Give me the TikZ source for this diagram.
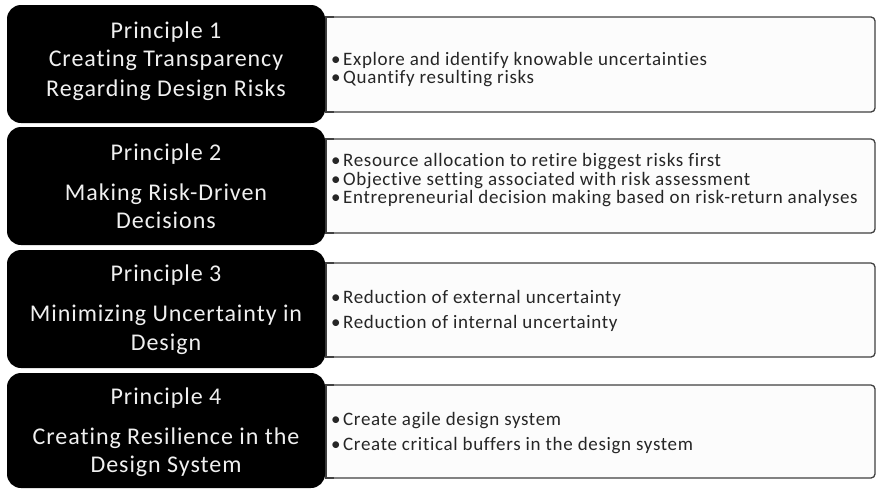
\documentclass[tikz,border=0pt]{standalone}
\usepackage{fontspec}
\setmainfont[Ligatures=NoCommon]{Carlito}
\newfontfamily\headfont[Ligatures=NoCommon,LetterSpace=4]{Carlito}
\newfontfamily\itemfont[Ligatures=NoCommon,LetterSpace=3.5]{Carlito}
\begin{document}
\begin{tikzpicture}[x=1pt,y=-1pt,
  principle/.style={fill=black, rounded corners=14pt},
  detail/.style={draw=black!75, line width=1.3pt, fill=black!1},
  head/.style={text=white!94!black, font=\headfont\fontsize{24}{28}\selectfont, anchor=base, inner sep=0pt},
  item/.style={text=black!85, font=\itemfont\fontsize{19}{22}\selectfont, anchor=base west, inner sep=0pt},
]
\useasboundingbox (0,0) rectangle (877,490);

% detail panels: square on the left, rounded on the right
\foreach \t/\b [count=\i] in {17/112,139/233,263/357,385/478} {
  \draw[detail, rounded corners=4pt] (326,\t) rectangle (875,\b);
  \fill[black!1] (325.5,\t+0.7) rectangle (334,\b-0.7);
  \draw[draw=black!75, line width=1.3pt] (334,\t) -- (326,\t) -- (326,\b) -- (334,\b);
}

% principle boxes
\foreach \t/\b [count=\i] in {5/123,127/245,250/368,373/488} {
  \path[principle] (7,\t) rectangle (325,\b);
}

% principle headings
\node[head] (h1) at (166,38.3) {Principle 1};
\node[head] (t1a) at (166,66.5) {Creating Transparency};
\node[head] (t1b) at (166,96.7) {Regarding Design Risks};

\node[head] (h2) at (166,160) {Principle 2};
\node[head] (t2a) at (166,200) {Making Risk-Driven};
\node[head] (t2b) at (166,228.3) {Decisions};

\node[head] (h3) at (166,281.7) {Principle 3};
\node[head] (t3a) at (166,321.7) {Minimizing Uncertainty in};
\node[head] (t3b) at (166,350) {Design};

\node[head] (h4) at (166,404.5) {Principle 4};
\node[head] (t4a) at (166,444) {Creating Resilience in the};
\node[head] (t4b) at (166,472.5) {Design System};

% bullet items
\newcommand{\bul}{\makebox[12pt][l]{\textbullet}}
\node[item] (b1a) at (331,65.7) {\bul Explore and identify knowable uncertainties};
\node[item] (b1b) at (331,83.3) {\bul Quantify resulting risks};

\node[item] (b2a) at (331,166.7) {\bul Resource allocation to retire biggest risks first};
\node[item] (b2b) at (331,185) {\bul Objective setting associated with risk assessment};
\node[item] (b2c) at (331,203.3) {\bul Entrepreneurial decision making based on risk-return analyses};

\node[item] (b3a) at (331,303.3) {\bul Reduction of external uncertainty};
\node[item] (b3b) at (331,328.3) {\bul Reduction of internal uncertainty};

\node[item] (b4a) at (331,425.7) {\bul Create agile design system};
\node[item] (b4b) at (331,450.7) {\bul Create critical buffers in the design system};
\end{tikzpicture}
\end{document}
